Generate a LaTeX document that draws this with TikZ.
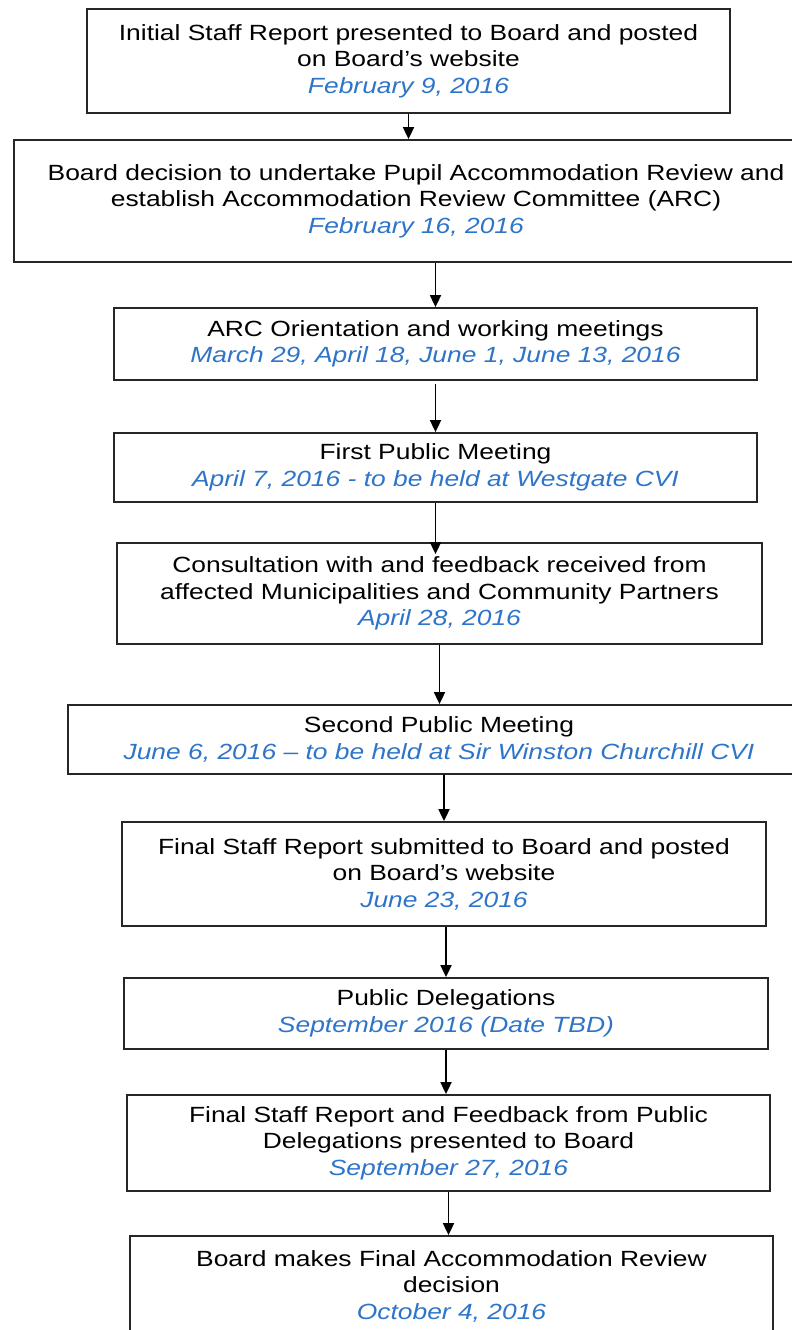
\documentclass[tikz,border=0pt]{standalone}
\usepackage{fontspec}
\setmainfont{Liberation Sans}[FakeStretch=1.2]
\usetikzlibrary{arrows.meta}
\definecolor{bleudate}{RGB}{46,116,200}
\newcommand{\jour}[1]{{\color{bleudate}\itshape #1}}

\begin{document}
\begin{tikzpicture}[x=1pt,y=1pt]
\tikzset{boite/.style={draw=black!85, line width=1.8pt, rectangle, align=center, inner sep=0pt, font=\fontsize{22}{26.5}\selectfont}}
\tikzset{fleche/.style={-{Triangle[length=12pt,width=11pt]}, line width=1.8pt}}
\useasboundingbox (0,0) rectangle (792,-1330);
\clip (0,0) rectangle (792,-1330);
\node[boite, minimum width=643pt, minimum height=104pt] (B1) at (408.5,-61) {Initial Staff Report presented to Board and posted\\on Board’s website\\\jour{February 9, 2016}};
\node[boite, minimum width=804pt, minimum height=122pt] (B2) at (416,-201) {Board decision to undertake Pupil Accommodation Review and\\establish Accommodation Review Committee (ARC)\\\jour{February 16, 2016}};
\node[boite, minimum width=643pt, minimum height=72pt] (B3) at (435.5,-344) {ARC Orientation and working meetings\\\jour{March 29, April 18, June 1, June 13, 2016}};
\node[boite, minimum width=643pt, minimum height=69pt] (B4) at (435.5,-467.5) {First Public Meeting\\\jour{April 7, 2016 - to be held at Westgate CVI}};
\node[boite, minimum width=645pt, minimum height=101pt] (B5) at (439.5,-593.5) {Consultation with and feedback received from\\affected Municipalities and Community Partners\\\jour{April 28, 2016}};
\node[boite, minimum width=742pt, minimum height=69pt] (B6) at (439,-739.5) {Second Public Meeting\\\jour{June 6, 2016 – to be held at Sir Winston Churchill CVI}};
\node[boite, minimum width=644pt, minimum height=104pt] (B7) at (444,-874) {Final Staff Report submitted to Board and posted\\on Board’s website\\\jour{June 23, 2016}};
\node[boite, minimum width=644pt, minimum height=71pt] (B8) at (446,-1013.5) {Public Delegations\\\jour{September 2016 (Date TBD)}};
\node[boite, minimum width=643pt, minimum height=96pt] (B9) at (448.5,-1143) {Final Staff Report and Feedback from Public\\Delegations presented to Board\\\jour{September 27, 2016}};
\node[boite, minimum width=643pt, minimum height=100pt] (B10) at (451.5,-1286) {Board makes Final Accommodation Review\\decision\\\jour{October 4, 2016}};
\draw[fleche] (B1.south) -- (B1.south |- B2.north);
\draw[fleche] (B2.south -| B3.north) -- (B3.north);
\draw[fleche] ([yshift=-3pt]B3.south) -- (B4.north);
\draw[fleche, shorten >=-12pt] (B4.south) -- (B4.south |- B5.north);
\draw[fleche] (B5.south) -- (B5.south |- B6.north);
\draw[fleche] (B7.north |- B6.south) -- (B7.north);
\draw[fleche] (B8.north |- B7.south) -- (B8.north);
\draw[fleche] (B8.south) -- (B8.south |- B9.north);
\draw[fleche] (B9.south) -- (B9.south |- B10.north);
\end{tikzpicture}
\end{document}
